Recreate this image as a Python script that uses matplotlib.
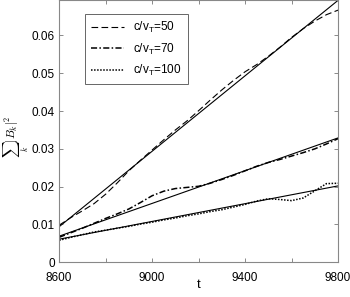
import numpy as np
import matplotlib
matplotlib.use("Agg")
import matplotlib.pyplot as plt

plt.rcParams['font.family'] = ['Liberation Sans', 'DejaVu Sans']
plt.rcParams['mathtext.fontset'] = 'custom'
plt.rcParams['mathtext.rm'] = 'Liberation Sans'
plt.rcParams['mathtext.it'] = 'Liberation Sans:italic'

# simulation time samples
t = [8600, 8650, 8700, 8750, 8800, 8850, 8900, 8950, 9000, 9050, 9100, 9150, 9200,
     9250, 9300, 9350, 9400, 9450, 9500, 9550, 9600, 9650, 9700, 9750, 9800]

# sum_k |B_k|^2 for each c/v_T
b_50 = [0.0098, 0.0118, 0.0136, 0.0155, 0.0180, 0.0210, 0.0242, 0.0270, 0.0297,
        0.0324, 0.0350, 0.0374, 0.0401, 0.0429, 0.0456, 0.0481, 0.0504, 0.0523,
        0.0545, 0.0569, 0.0595, 0.0618, 0.0638, 0.0655, 0.0667]
b_70 = [0.0066, 0.0078, 0.0090, 0.0103, 0.0116, 0.0128, 0.0141, 0.0158, 0.0176,
        0.0188, 0.0195, 0.0198, 0.0201, 0.0209, 0.0219, 0.0230, 0.0242, 0.0254,
        0.0264, 0.0272, 0.0281, 0.0290, 0.0300, 0.0313, 0.0327]
b_100 = [0.0058, 0.0066, 0.0073, 0.0080, 0.0085, 0.0090, 0.0095, 0.0101, 0.0106,
         0.0112, 0.0117, 0.0123, 0.0128, 0.0134, 0.0139, 0.0146, 0.0153, 0.0162,
         0.0168, 0.0166, 0.0163, 0.0170, 0.0189, 0.0208, 0.0209]

# linear fits (end points)
fit_t = [8600, 9800]
fit_50 = [0.0094, 0.0693]
fit_70 = [0.0069, 0.0329]
fit_100 = [0.0061, 0.0202]

labels = [r'c/v$_{\rm T}$=50', r'c/v$_{\rm T}$=70', r'c/v$_{\rm T}$=100']

fig = plt.figure(figsize=(3.5, 2.97), dpi=100)
ax = fig.add_axes([0.169, 0.117, 0.797, 0.882])

ax.plot(t, b_50, color='black', lw=0.8, ls=(0, (6, 3)), label=labels[0])
ax.plot(t, b_70, color='black', lw=1.1, ls=(0, (4, 1.5, 1, 1.5)), label=labels[1])
ax.plot(t, b_100, color='black', lw=1.1, ls=(0, (1, 1)), label=labels[2])
for fit in (fit_50, fit_70, fit_100):
    ax.plot(fit_t, fit, color='black', lw=0.8)

ax.set_xlim(8600, 9800)
ax.set_ylim(0, 0.0693)
ax.set_xticks([8600, 8800, 9000, 9200, 9400, 9600, 9800])
ax.set_xticklabels(['8600', '', '9000', '', '9400', '', '9800'])
ax.set_yticks([0, 0.01, 0.02, 0.03, 0.04, 0.05, 0.06])
ax.set_yticklabels(['0', '0.01', '0.02', '0.03', '0.04', '0.05', '0.06'])
ax.tick_params(direction='in', length=3, width=0.6, color='#777777', labelsize=8.5,
               top=True, right=True, pad=3)
ax.tick_params(axis='x', pad=7)
for s in ax.spines.values():
    s.set_color('#888888')
    s.set_linewidth(0.8)

ax.set_xlabel('t', fontsize=9.5)
ax.xaxis.set_label_coords(0.5, -0.065)
ax.set_ylabel(r'$\sum_k |B_k|^2$', fontsize=8.5, math_fontfamily='cm')
ax.yaxis.set_label_coords(-0.1, 0.48)

leg = ax.legend(loc='upper left', bbox_to_anchor=(0.092, 0.948), borderaxespad=0,
                fontsize=8.5, handlelength=2.8, fancybox=False, framealpha=1,
                edgecolor='#666666', labelspacing=0.55, borderpad=0.5)
leg.get_frame().set_linewidth(0.7)

fig.savefig('out.png', dpi=100)
